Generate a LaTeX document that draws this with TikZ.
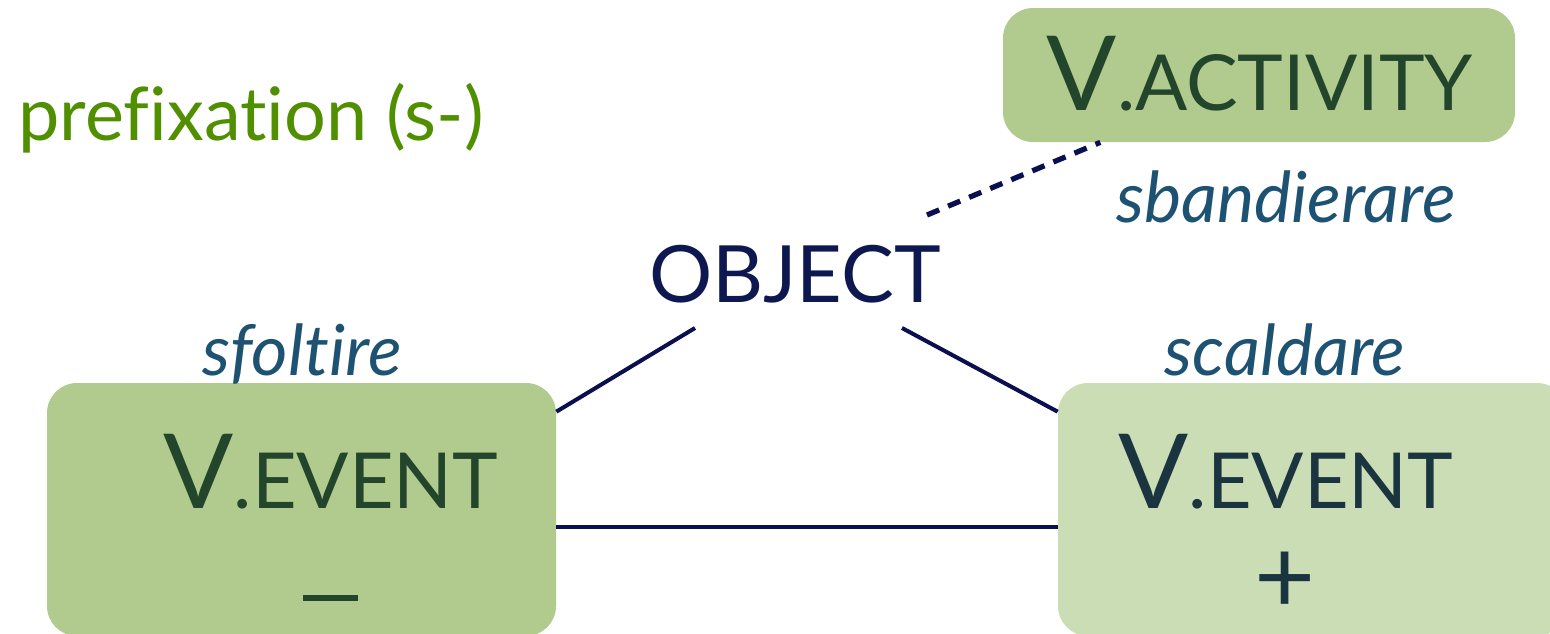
\documentclass[tikz,border=0pt]{standalone}
\usepackage{fontspec}
\setmainfont{Lato}[Ligatures=NoCommon]
\newlength{\du}
\setlength{\du}{0.02cm}
\definecolor{boxdark}{HTML}{B0CB8D}
\definecolor{boxlight}{HTML}{CBDDB4}
\definecolor{txtgreen}{HTML}{22452B}
\definecolor{txtteal}{HTML}{1A3540}
\definecolor{wordblue}{HTML}{1E5272}
\definecolor{objnavy}{HTML}{0D1850}
\definecolor{linknavy}{HTML}{0A0F50}
\definecolor{titlegreen}{HTML}{4F8F00}
\newcommand{\vsmcap}[2]{{\fontsize{59}{59}\selectfont #1}{\fontsize{44}{44}\selectfont #2}}
\tikzset{
  evbox/.style={rounded corners=0.6cm, minimum width=509\du, minimum height=253\du, inner sep=0pt},
  actbox/.style={rounded corners=0.6cm, minimum width=512\du, minimum height=134\du, inner sep=0pt, fill=boxdark},
  boxtext/.style={anchor=base, inner sep=0pt},
  word/.style={anchor=base, inner sep=0pt, text=wordblue, font=\fontsize{40}{40}\selectfont\itshape},
  link/.style={draw=linknavy, line width=2.3pt},
  dotlink/.style={draw=linknavy, line width=3pt, dash pattern=on 7.5pt off 5.5pt}
}
\begin{document}
\begin{tikzpicture}[x=1\du, y=-1\du]
\useasboundingbox (0,0) rectangle (1550,633);
\clip (0,0) rectangle (1550,633);
% boxes
\node[evbox, fill=boxdark] (lbox) at (301.5,509.5) {};
\node[evbox, fill=boxlight] (rbox) at (1312.5,509.5) {};
\node[actbox] (act) at (1259,75) {};
% box texts
\node[boxtext, text=txtgreen] (lname) at (331,508) {\vsmcap{V}{.EVENT}};
\node[anchor=center, inner sep=0pt, fill=txtgreen, minimum width=55\du, minimum height=6\du] (lsign) at (330,598) {};
\node[boxtext, text=txtteal] (rname) at (1286,508) {\vsmcap{V}{.EVENT}};
\node[boxtext, text=txtteal, font=\fontsize{60}{60}\selectfont] (rsign) at (1285,613) {+};
\node[boxtext, text=txtgreen] (aname) at (1260,110) {\vsmcap{V}{.ACTIVITY}};
% words
\node[boxtext, text=objnavy, font=\fontsize{45}{45}\selectfont] (obj) at (795,302) {OBJECT};
\node[word] (sfoltire) at (302,375) {sfoltire};
\node[word] (scaldare) at (1285,375) {scaldare};
\node[word] (sband) at (1286,222) {sbandierare};
\node[anchor=base west, inner sep=0pt, text=titlegreen, font=\fontsize{42}{42}\selectfont] (title) at (18,140) {prefixation (s-)};
% connectors
\coordinate (objL) at (695,328);
\coordinate (objR) at (902,328);
\coordinate (objT) at (927,215);
\draw[link] (objL) -- (lbox.21.7);
\draw[link] (objR) -- (rbox.159);
\draw[link] (lbox.-4.4) -- (rbox.184.4);
\draw[dotlink] (objT) -- (act.203);
\end{tikzpicture}
\end{document}
